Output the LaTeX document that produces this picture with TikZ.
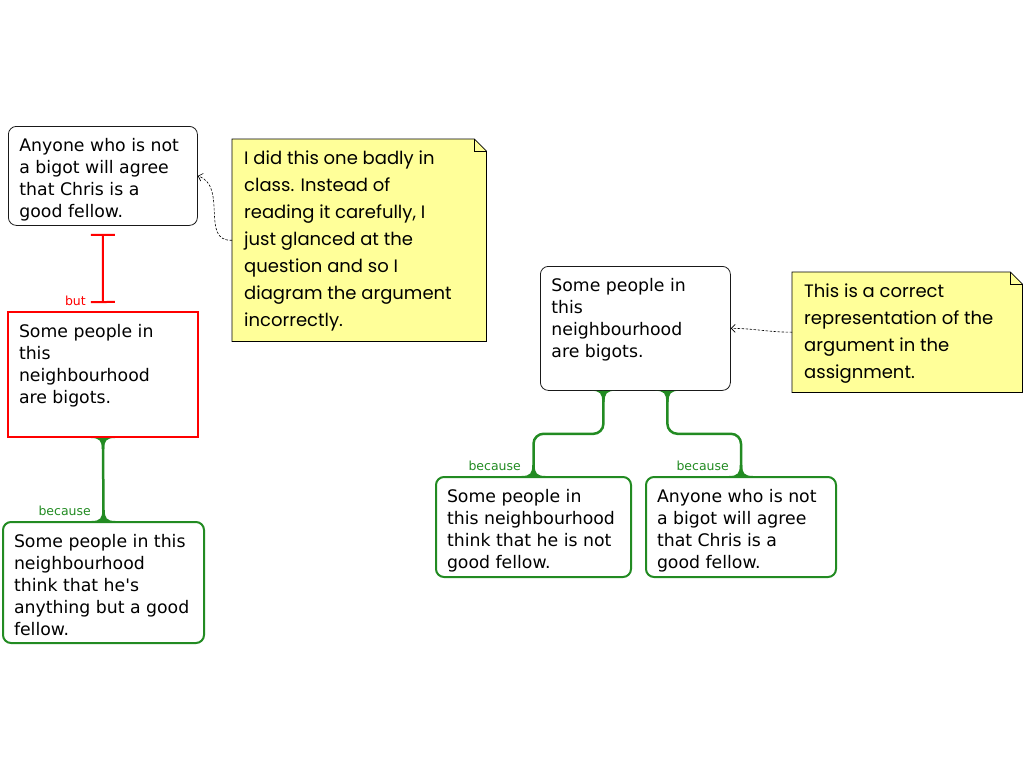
\documentclass[tikz,border=0pt]{standalone}
\usepackage{fontspec}
\setmainfont{DejaVu Sans}
\newfontfamily\notefont{Poppins}
\usepackage{tikz}
\usetikzlibrary{arrows.meta}
\usetikzlibrary{backgrounds}
\definecolor{arggreen}{RGB}{34,139,34}
\definecolor{noteyellow}{RGB}{255,255,153}
\tikzset{
  argbox/.style={rectangle,draw=black!90,rounded corners=8pt,line width=0.8pt,anchor=north west,inner xsep=11pt,inner ysep=12pt,font=\fontsize{17.3}{22}\selectfont},
  rebutbox/.style={argbox,draw=red,sharp corners,line width=2pt},
  reasonbox/.style={argbox,draw=arggreen,line width=2pt},
  notebox/.style={anchor=north west,inner xsep=12pt,inner ysep=12pt,font=\notefont\fontsize{18}{27}\selectfont},
  butline/.style={red,line width=2pt,{Bar[width=24pt,line width=2pt]}-{Bar[width=24pt,line width=2pt]},shorten <=8pt,shorten >=8pt},
  becauseline/.style={arggreen,line width=2.5pt,rounded corners=10pt},
  linklabel/.style={anchor=base east,inner sep=0pt,font=\fontsize{12.5}{14}\selectfont},
  noteline/.style={dash pattern=on 2.5pt off 1.5pt,line width=0.6pt,-{Straight Barb[length=4pt,width=8pt]}},
}
% box of fixed size, text at the top
\newcommand{\argtext}[3]{\parbox[c][\dimexpr#2pt-24pt\relax][t]{\dimexpr#1pt-22pt\relax}{\raggedright#3}}
\newcommand{\notetext}[3]{\parbox[c][\dimexpr#2pt-24pt\relax][t]{\dimexpr#1pt-24pt\relax}{\raggedright#3}}
% flared joints of the green lines
\newcommand{\flaretop}[1]{\fill[arggreen] ([xshift=-12pt]#1) .. controls ([xshift=-3pt]#1) and ([xshift=-1.25pt,yshift=-3pt]#1) .. ([xshift=-1.25pt,yshift=-11pt]#1) -- ([xshift=1.25pt,yshift=-11pt]#1) .. controls ([xshift=1.25pt,yshift=-3pt]#1) and ([xshift=3pt]#1) .. ([xshift=12pt]#1) -- cycle;}
\newcommand{\flarebottom}[1]{\fill[arggreen] ([xshift=-12pt]#1) .. controls ([xshift=-3pt]#1) and ([xshift=-1.25pt,yshift=3pt]#1) .. ([xshift=-1.25pt,yshift=11pt]#1) -- ([xshift=1.25pt,yshift=11pt]#1) .. controls ([xshift=1.25pt,yshift=3pt]#1) and ([xshift=3pt]#1) .. ([xshift=12pt]#1) -- cycle;}
\newcommand{\notebg}[1]{\filldraw[fill=noteyellow,draw=black,line width=0.8pt] (#1.north west) -- ([xshift=-12pt]#1.north east) -- ([yshift=-12pt]#1.north east) -- (#1.south east) -- (#1.south west) -- cycle;
  \draw[line width=0.8pt] ([xshift=-12pt]#1.north east) -- ([xshift=-12pt,yshift=-12pt]#1.north east) -- ([yshift=-12pt]#1.north east);}

\begin{document}
\begin{tikzpicture}[x=1pt,y=-1pt]
  \useasboundingbox (0,0) rectangle (1024,768);

  % wrong diagram
  \node[argbox] (claimA) at (8,126) {\argtext{189}{99}{Anyone who is not\\ a bigot will agree\\ that Chris is a\\ good fellow.}};
  \node[rebutbox] (rebut) at (7,311) {\argtext{190}{125}{Some people in\\ this\\ neighbourhood\\ are bigots.}};
  \node[reasonbox] (reasonA) at (2,521) {\argtext{201}{121}{Some people in this\\ neighbourhood\\ think that he\textquotesingle s\\ anything but a good\\ fellow.}};
  \node[notebox] (noteA) at (232,139) {\notetext{254}{202}{I did this one badly in\\ class. Instead of\\ reading it carefully, I\\ just glanced at the\\ question and so I\\ diagram the argument\\ incorrectly.}};

  % correct diagram
  \node[argbox] (claimB) at (540,266) {\argtext{190}{124}{Some people in\\ this\\ neighbourhood\\ are bigots.}};
  \node[reasonbox] (reasonB) at (435,476) {\argtext{195}{100}{Some people in\\ this neighbourhood\\ think that he is not\\ good fellow.}};
  \node[reasonbox] (reasonC) at (645,476) {\argtext{190}{100}{Anyone who is not\\ a bigot will agree\\ that Chris is a\\ good fellow.}};
  \node[notebox] (noteB) at (792,272) {\notetext{230}{120}{This is a correct\\ representation of the\\ argument in the\\ assignment.}};

  \begin{pgfonlayer}{background}
    \notebg{noteA}
    \notebg{noteB}
  \end{pgfonlayer}

  % links
  \draw[butline] (claimA.south) -- (rebut.north);
  \node[linklabel,text=red] (butlbl) at (86,305) {but};

  \draw[becauseline] (rebut.south) -- (reasonA.north);
  \flaretop{rebut.south}
  \flarebottom{reasonA.north}
  \node[linklabel,text=arggreen] (becauseA) at (91,515) {because};

  \coordinate (jointL) at ([xshift=-32pt]claimB.south);
  \coordinate (jointR) at ([xshift=32pt]claimB.south);
  \draw[becauseline] (jointL) -- ++(0,43) -| (reasonB.north);
  \draw[becauseline] (jointR) -- ++(0,43) -| (reasonC.north);
  \flaretop{jointL}
  \flaretop{jointR}
  \flarebottom{reasonB.north}
  \flarebottom{reasonC.north}
  \node[linklabel,text=arggreen] (becauseB) at (521,470) {because};
  \node[linklabel,text=arggreen] (becauseC) at (729,470) {because};

  % notes
  \draw[noteline] (noteA.west) .. controls (200,242) and (228,186) .. (claimA.east);
  \draw[noteline] (noteB.west) to[out=180,in=0] (claimB.east);
\end{tikzpicture}
\end{document}
